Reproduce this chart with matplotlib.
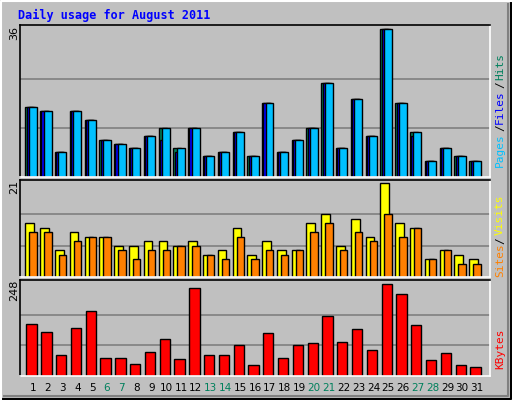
import matplotlib
matplotlib.use("Agg")
import matplotlib.pyplot as plt
from matplotlib.patches import Rectangle

days = list(range(1, 32))
weekend = [6, 7, 13, 14, 20, 21, 27, 28]
hits = [17, 16, 6, 16, 14, 9, 8, 7, 10, 12, 7, 12, 5, 6, 11, 5, 18, 6, 9, 12, 23, 7, 19, 10, 36, 18, 11, 4, 7, 5, 4]
files = [17, 16, 6, 16, 14, 9, 8, 7, 10, 9, 6, 12, 5, 6, 11, 5, 18, 6, 9, 12, 23, 7, 19, 10, 36, 18, 10, 4, 7, 5, 4]
pages = [17, 16, 6, 16, 14, 9, 8, 7, 10, 12, 7, 12, 5, 6, 11, 5, 18, 6, 9, 12, 23, 7, 19, 10, 36, 18, 11, 4, 7, 5, 4]
visits = [12, 11, 6, 10, 9, 9, 7, 7, 8, 8, 7, 8, 5, 6, 11, 5, 8, 6, 6, 12, 14, 7, 13, 9, 21, 12, 11, 4, 6, 5, 4]
sites = [10, 10, 5, 8, 9, 9, 6, 4, 6, 6, 7, 7, 5, 4, 9, 4, 6, 5, 6, 10, 12, 6, 10, 8, 14, 9, 11, 4, 6, 3, 3]
kbytes = [142, 118, 58, 131, 175, 50, 50, 33, 66, 99, 47, 237, 58, 58, 85, 31, 115, 50, 85, 90, 161, 93, 128, 69, 248, 221, 137, 44, 61, 31, 25]

BG = "#C0C0C0"
C_HITS, C_FILES, C_PAGES = "#00805C", "#0000FF", "#00C0FF"
C_VISITS, C_SITES, C_KB = "#FFFF00", "#FF8000", "#FF0000"

W, H = 512, 400
fig = plt.figure(figsize=(W / 100, H / 100), dpi=100, facecolor=BG)

# outer 3D frame
fa = fig.add_axes([0, 0, 1, 1]); fa.set_xlim(0, W); fa.set_ylim(H, 0); fa.axis("off")
fa.plot([1, W - 1, W - 1], [H - 1, H - 1, 1], color="black", lw=1.5)
fa.plot([W - 4, W - 4, 4], [4, H - 4, H - 4], color="#808080", lw=1.5)
fa.plot([1, 1, W - 1], [H - 1, 1, 1], color="white", lw=1.5)
fa.text(18, 15, "Daily usage for August 2011", color="#0000FF", fontsize=8.5,
        fontweight="bold", family="DejaVu Sans Mono", va="center")

X0, X1 = 20, 490
def panel(top, bot):
    ax = fig.add_axes([X0 / W, 1 - bot / H, (X1 - X0) / W, (bot - top) / H])
    ax.set_facecolor(BG)
    ax.set_xlim(0.12, 31.88)
    for s in ax.spines.values():
        s.set_linewidth(1.2)
    ax.spines["bottom"].set_color("white"); ax.spines["right"].set_color("white")
    ax.set_xticks([]); ax.set_yticks([])
    return ax

def bars(ax, vals, x0, x1, color):
    for d, v in zip(days, vals):
        ax.add_patch(Rectangle((d - 1 + x0, 0), x1 - x0, v, facecolor=color,
                               edgecolor="black", lw=1.0))

def grid(ax, vmax):
    for f in (1 / 3, 2 / 3):
        ax.axhline(vmax * f, color="#808080", lw=1.2, zorder=0)

def side_label(y, parts):
    # parts drawn bottom-to-top, rotated
    for text, color, yy in parts:
        fa.text(500, yy, text, color=color, rotation=90, fontsize=8,
                family="DejaVu Sans Mono", ha="center", va="center")

# top panel
ax1 = panel(25, 177)
top1 = max(hits)
ax1.set_ylim(0, top1 / 0.972)
grid(ax1, top1)
bars(ax1, hits, 0.48, 1.02, C_HITS)
bars(ax1, files, 0.57, 1.11, C_FILES)
bars(ax1, pages, 0.71, 1.25, C_PAGES)
fa.text(14, 33, str(top1), rotation=90, fontsize=8, ha="center", va="center")
side_label(0, [("Pages", C_PAGES, 150), ("/", "black", 128), ("Files", C_FILES, 107),
               ("/", "black", 85), ("Hits", C_HITS, 66)])

# middle panel
ax2 = panel(180, 277)
top2 = max(visits)
ax2.set_ylim(0, top2 / 0.97)
grid(ax2, top2)
bars(ax2, visits, 0.48, 1.07, C_VISITS)
bars(ax2, sites, 0.75, 1.25, C_SITES)
fa.text(14, 187, str(top2), rotation=90, fontsize=8, ha="center", va="center")
side_label(0, [("Sites", C_SITES, 260), ("/", "black", 241), ("Visits", C_VISITS, 215)])

# bottom panel
ax3 = panel(280, 376)
top3 = max(kbytes)
ax3.set_ylim(0, top3 / 0.955)
grid(ax3, top3)
bars(ax3, kbytes, 0.55, 1.25, C_KB)
fa.text(14, 290, str(top3), rotation=90, fontsize=8, ha="center", va="center")
side_label(0, [("KBytes", C_KB, 349)])

for d in days:
    x = X0 + (d - 0.12) / 31.76 * (X1 - X0)
    fa.text(x, 388, str(d), color=C_HITS if d in weekend else "black",
            fontsize=7.5, ha="center", va="center")

fig.savefig("out.png", dpi=100, facecolor=BG)
